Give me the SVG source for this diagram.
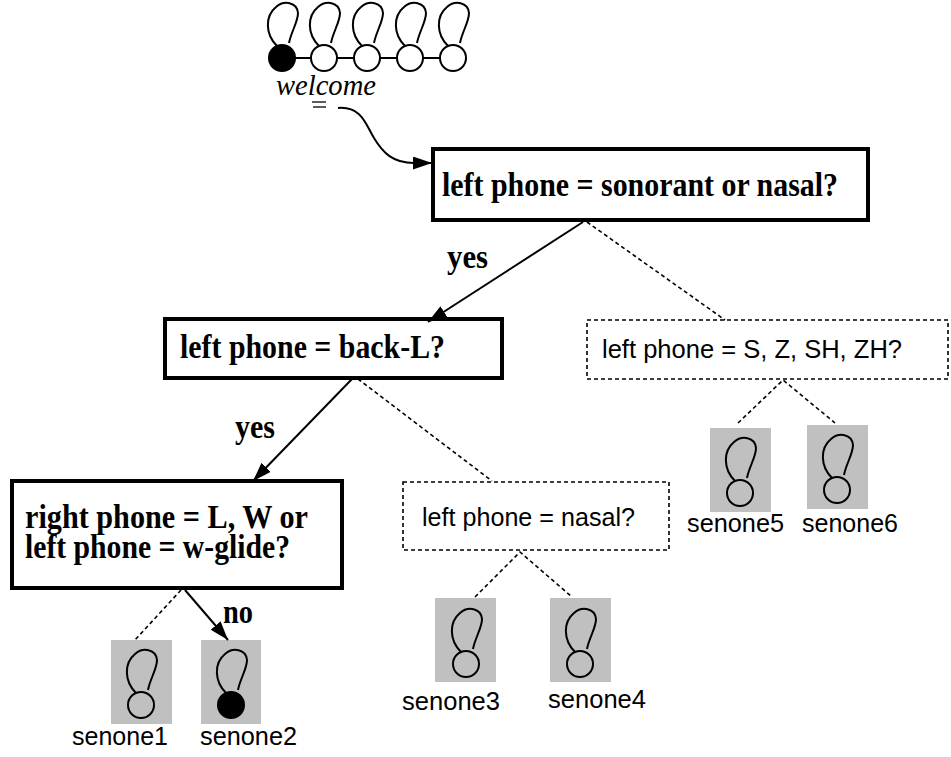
<svg xmlns="http://www.w3.org/2000/svg" width="951" height="757" viewBox="0 0 951 757">
<style>
.q{fill:#fff;stroke:#000;stroke-width:4}
.d{fill:#fff;stroke:#000;stroke-width:1.6;stroke-dasharray:4 3}
.bt{font-family:"Liberation Serif","Times New Roman",serif;font-weight:bold;font-size:33px;fill:#000}
.st{font-family:"Liberation Sans",Arial,sans-serif;font-size:26px;fill:#000}
.g{fill:#c0c0c0}
.c{fill:#fff;stroke:#000;stroke-width:2}
.cf{fill:#000;stroke:#000;stroke-width:2}
.lp{fill:none;stroke:#000;stroke-width:2}
.sol{fill:none;stroke:#000;stroke-width:2}
.dash{fill:none;stroke:#000;stroke-width:1.6;stroke-dasharray:4 3}
</style>
<defs>
<marker id="ah" markerUnits="userSpaceOnUse" markerWidth="20" markerHeight="14" refX="19" refY="6.5" orient="auto">
<path d="M0,0 L19,6.5 L0,13 z" fill="#000"/>
</marker>
<path id="loop" d="M -5,-12 C -17,-24 -17,-42 -6,-51 C 2,-58 15,-56 16,-45 C 16,-36 9,-26 7,-15"/>
</defs>

<g id="hmm">
<line x1="282" y1="58" x2="453" y2="58" stroke="#000" stroke-width="2"/>
<use href="#loop" class="lp" transform="translate(282,58)"/>
<use href="#loop" class="lp" transform="translate(324,58)"/>
<use href="#loop" class="lp" transform="translate(367,58)"/>
<use href="#loop" class="lp" transform="translate(410,58)"/>
<use href="#loop" class="lp" transform="translate(453,58)"/>
<circle cx="282" cy="58" r="13" class="cf"/>
<circle cx="324" cy="58" r="13" class="c"/>
<circle cx="367" cy="58" r="13" class="c"/>
<circle cx="410" cy="58" r="13" class="c"/>
<circle cx="453" cy="58" r="13" class="c"/>
<text x="276" y="95" font-family="Liberation Serif,Times New Roman,serif" font-style="italic" font-size="30" textLength="100" lengthAdjust="spacingAndGlyphs">welcome</text>
<line x1="312" y1="102" x2="326" y2="102" stroke="#000" stroke-width="1.3"/>
<line x1="313" y1="107" x2="326" y2="107" stroke="#000" stroke-width="1.3"/>
</g>

<g id="q1">
<rect x="433" y="149" width="435" height="71" class="q"/>
<text x="442" y="196" class="bt" textLength="396" lengthAdjust="spacingAndGlyphs">left phone = sonorant or nasal?</text>
</g>

<g id="q2">
<rect x="165" y="319" width="337" height="59" class="q"/>
<text x="180" y="358" class="bt" textLength="265" lengthAdjust="spacingAndGlyphs">left phone = back-L?</text>
</g>

<g id="q3">
<rect x="12" y="481" width="330" height="107" class="q"/>
<text x="25" y="528" class="bt" textLength="283" lengthAdjust="spacingAndGlyphs">right phone = L, W or</text>
<text x="25" y="558" class="bt" textLength="265" lengthAdjust="spacingAndGlyphs">left phone = w-glide?</text>
</g>

<g id="q4">
<rect x="587" y="320" width="361" height="59" class="d"/>
<text x="602" y="358" class="st" textLength="300" lengthAdjust="spacingAndGlyphs">left phone = S, Z, SH, ZH?</text>
</g>

<g id="q5">
<rect x="403" y="482" width="266" height="68" class="d"/>
<text x="422" y="526" class="st" textLength="213" lengthAdjust="spacingAndGlyphs">left phone = nasal?</text>
</g>

<g id="senone1">
<rect x="111" y="640" width="61" height="84" class="g"/>
<use href="#loop" class="lp" transform="translate(141,705)"/>
<circle cx="141" cy="705" r="13" class="c" style="fill:none"/>
<text x="72" y="745" class="st" textLength="96" lengthAdjust="spacingAndGlyphs">senone1</text>
</g>
<g id="senone2">
<rect x="201" y="640" width="60" height="84" class="g"/>
<use href="#loop" class="lp" transform="translate(231,705)"/>
<circle cx="231" cy="705" r="13" class="cf"/>
<text x="200" y="745" class="st" textLength="97" lengthAdjust="spacingAndGlyphs">senone2</text>
</g>
<g id="senone3">
<rect x="435" y="598" width="61" height="84" class="g"/>
<use href="#loop" class="lp" transform="translate(466,664)"/>
<circle cx="466" cy="664" r="13" class="c" style="fill:none"/>
<text x="402" y="710" class="st" textLength="98" lengthAdjust="spacingAndGlyphs">senone3</text>
</g>
<g id="senone4">
<rect x="550" y="598" width="61" height="84" class="g"/>
<use href="#loop" class="lp" transform="translate(580,664)"/>
<circle cx="580" cy="664" r="13" class="c" style="fill:none"/>
<text x="548" y="708" class="st" textLength="98" lengthAdjust="spacingAndGlyphs">senone4</text>
</g>
<g id="senone5">
<rect x="710" y="428" width="61" height="84" class="g"/>
<use href="#loop" class="lp" transform="translate(740,493)"/>
<circle cx="740" cy="493" r="13" class="c" style="fill:none"/>
<text x="687" y="532" class="st" textLength="97" lengthAdjust="spacingAndGlyphs">senone5</text>
</g>
<g id="senone6">
<rect x="807" y="425" width="61" height="84" class="g"/>
<use href="#loop" class="lp" transform="translate(837,490)"/>
<circle cx="837" cy="490" r="13" class="c" style="fill:none"/>
<text x="802" y="532" class="st" textLength="96" lengthAdjust="spacingAndGlyphs">senone6</text>
</g>

<g id="connectors">
<path d="M 338,108 C 362,106 366,125 374,138 C 383,153 393,163 414,163 L 432,163" class="sol" marker-end="url(#ah)"/>
<line x1="583" y1="222" x2="428" y2="322" class="sol" marker-end="url(#ah)"/>
<line x1="587" y1="222" x2="725" y2="320" class="dash"/>
<line x1="352" y1="379" x2="253" y2="481" class="sol" marker-end="url(#ah)"/>
<line x1="358" y1="379" x2="492" y2="481" class="dash"/>
<polyline points="738,423 783,380 835,423" class="dash"/>
<polyline points="475,597 520,552 572,597" class="dash"/>
<line x1="181" y1="590" x2="135" y2="640" class="dash"/>
<line x1="185" y1="590" x2="228" y2="640" class="sol" marker-end="url(#ah)"/>
<text x="447" y="268" class="bt" textLength="41" lengthAdjust="spacingAndGlyphs">yes</text>
<text x="235" y="438" class="bt" textLength="40" lengthAdjust="spacingAndGlyphs">yes</text>
<text x="223" y="623" class="bt" textLength="30" lengthAdjust="spacingAndGlyphs">no</text>
</g>
</svg>
